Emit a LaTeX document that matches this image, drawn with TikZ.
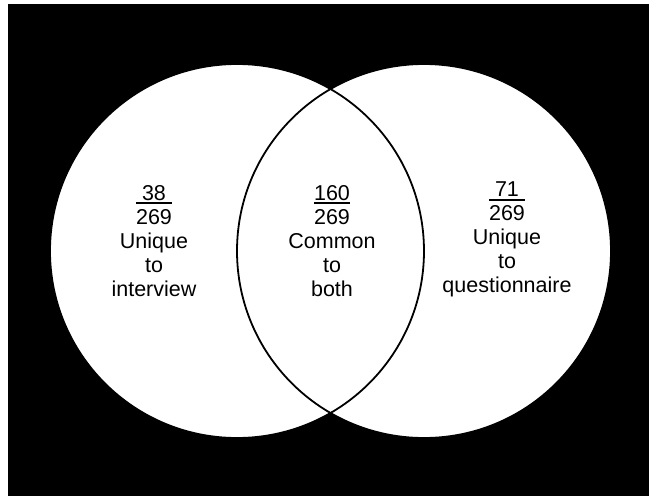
\documentclass[tikz,border=0pt]{standalone}
\usepackage{fontspec}
\setmainfont{Liberation Sans}
\newlength\sharewd
% numerator over a rule as wide as the denominator
\newcommand{\share}[2]{\settowidth{\sharewd}{#2}\makebox[\sharewd]{#1}\llap{\rule[-4pt]{\sharewd}{1.8pt}}\\#2}
\tikzset{areatext/.style={align=center, inner sep=0pt, anchor=north, font=\fontsize{21.5}{24}\selectfont}}
\begin{document}
\begin{tikzpicture}[x=1pt, y=-1pt]
    \def\R{187pt}
    \useasboundingbox (0,0) rectangle (649,496);
    % Background
    \fill[black] (8,4) rectangle (649,496);
    % Centres
    \coordinate (cint) at (237,251);
    \coordinate (cque) at (424,251);
    % Circles
    \fill[white] (cint) circle (\R) (cque) circle (\R);
    \draw[line width=1.8pt] (cint) circle (\R) (cque) circle (\R);
    % Texts
    \node[areatext] (inter) at (154,185) {\share{38}{269}\\Unique\\to\\interview};
    \node[areatext] (both) at (332,185) {\share{160}{269}\\Common\\to\\both};
    \node[areatext] (quest) at (507,182) {\share{71}{269}\\Unique\\to\\questionnaire};
\end{tikzpicture}
\end{document}
